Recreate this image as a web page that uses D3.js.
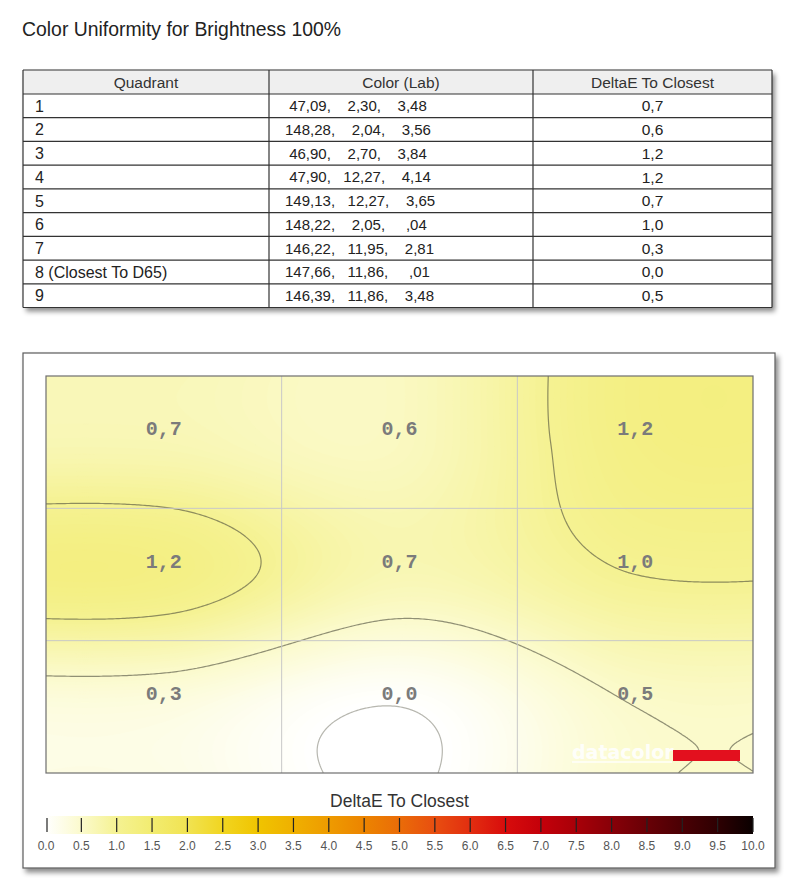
<!DOCTYPE html>
<html>
<head>
<meta charset="utf-8">
<script src="https://cdn.jsdelivr.net/npm/d3@7"></script>
<style>
  body { margin: 0; background: #fff; }
  svg { display: block; font-family: "Liberation Sans", Arial, sans-serif; }
</style>
</head>
<body>
<svg id="chart" width="804" height="891"></svg>
<script>
// table data
const tableHeaders = ["Quadrant", "Color (Lab)", "DeltaE To Closest"];
const quadrants = ["1", "2", "3", "4", "5", "6", "7", "8 (Closest To D65)", "9"];
const labL = ["47,09", "148,28", "46,90", "47,90", "149,13", "148,22", "146,22", "147,66", "146,39"];
const labA = ["2,30", "2,04", "2,70", "12,27", "12,27", "2,05", "11,95", "11,86", "11,86"];
const labB = ["3,48", "3,56", "3,84", "4,14", "3,65", ",04", "2,81", ",01", "3,48"];
const deltaE = [0.7, 0.6, 1.2, 1.2, 0.7, 1.0, 0.3, 0.0, 0.5];

// legend
const legendTicks = [0, 0.5, 1, 1.5, 2, 2.5, 3, 3.5, 4, 4.5, 5, 5.5, 6, 6.5, 7, 7.5, 8, 8.5, 9, 9.5, 10];
const legendColors = ["#ffffff", "#fbfacc", "#f5f292", "#f2ec70", "#f1e352", "#f1d520", "#f0c400",
  "#efb000", "#ee9b00", "#ec8400", "#ea6c08", "#e84e10", "#e22e10", "#d80c0c", "#c4000a",
  "#a80008", "#880008", "#680006", "#4a0004", "#2e0002", "#0a0000"];
const contourLevels = [0, 0.5, 1.0];

const svg = d3.select("#chart");
const defs = svg.append("defs");

const shadow = defs.append("filter").attr("id", "shadow")
  .attr("x", "-5%").attr("y", "-5%").attr("width", "115%").attr("height", "120%");
shadow.append("feDropShadow")
  .attr("dx", 3).attr("dy", 4).attr("stdDeviation", 2.5)
  .attr("flood-color", "#000").attr("flood-opacity", 0.45);

const fmt = v => d3.format(".1f")(v).replace(".", ",");

// title
svg.append("text")
  .attr("x", 22).attr("y", 35.5)
  .style("font-size", "19.4px").attr("fill", "#222")
  .text("Color Uniformity for Brightness 100%");

// ---------- table ----------
const colX = [23, 269, 533, 772];
const headTop = 70, headBot = 94, tableBot = 307.5;
const rowY = d3.scaleLinear().domain([0, quadrants.length]).range([headBot, tableBot]);

svg.append("rect")
  .attr("x", colX[0]).attr("y", headTop)
  .attr("width", colX[3] - colX[0]).attr("height", tableBot - headTop)
  .attr("fill", "#fff").attr("filter", "url(#shadow)");

svg.append("rect")
  .attr("x", colX[0]).attr("y", headTop)
  .attr("width", colX[3] - colX[0]).attr("height", headBot - headTop)
  .attr("fill", "#efefef");

const tbl = svg.append("g").attr("stroke", "#333").attr("stroke-width", 1.2);
d3.range(quadrants.length + 1).forEach(i => {
  tbl.append("line")
    .attr("x1", colX[0]).attr("x2", colX[3])
    .attr("y1", rowY(i)).attr("y2", rowY(i));
});
tbl.append("line").attr("x1", colX[0]).attr("x2", colX[3]).attr("y1", headTop).attr("y2", headTop);
colX.forEach(x => {
  tbl.append("line").attr("x1", x).attr("x2", x).attr("y1", headTop).attr("y2", tableBot);
});

svg.selectAll(".th")
  .data(tableHeaders)
  .join("text")
  .attr("class", "th")
  .attr("x", (d, i) => (colX[i] + colX[i + 1]) / 2)
  .attr("y", (headTop + headBot) / 2)
  .attr("dy", "0.36em")
  .attr("text-anchor", "middle")
  .style("font-size", "15.5px")
  .attr("fill", "#333")
  .text(d => d);

const rows = svg.append("g").attr("fill", "#222");
rows.selectAll(".q")
  .data(quadrants)
  .join("text")
  .attr("x", 35)
  .attr("y", (d, i) => rowY(i + 0.5))
  .attr("dy", "0.36em")
  .style("font-size", "16px")
  .text(d => d);

rows.selectAll(".lab")
  .data(labL)
  .join("text")
  .attr("x", 285)
  .attr("y", (d, i) => rowY(i + 0.5))
  .attr("dy", "0.36em")
  .attr("xml:space", "preserve")
  .style("white-space", "pre")
  .style("font-size", "15px")
  .text((d, i) => d.padStart(6) + ",   " + labA[i].padStart(5) + ",   " + labB[i].padStart(5));

rows.selectAll(".de")
  .data(deltaE)
  .join("text")
  .attr("x", (colX[2] + colX[3]) / 2)
  .attr("y", (d, i) => rowY(i + 0.5))
  .attr("dy", "0.36em")
  .attr("text-anchor", "middle")
  .style("font-size", "15.5px")
  .text(d => fmt(d));

// ---------- chart box ----------
svg.append("rect")
  .attr("x", 23).attr("y", 353).attr("width", 752).attr("height", 515)
  .attr("fill", "#fff").attr("stroke", "#5a5a5a").attr("stroke-width", 1.2)
  .attr("filter", "url(#shadow)");

const plot = { left: 46, right: 753, top: 376, bottom: 773 };
const x = d3.scaleLinear().domain([0, 3]).range([plot.left, plot.right]);
const y = d3.scaleLinear().domain([0, 3]).range([plot.top, plot.bottom]);
const color = d3.scaleLinear().domain(legendTicks).range(legendColors).clamp(true);

// smooth field through the 3x3 cell centres (Catmull-Rom, clamped ends)
const grid = [deltaE.slice(0, 3), deltaE.slice(3, 6), deltaE.slice(6, 9)];
function catmull(p0, p1, p2, p3, t) {
  return 0.5 * (2 * p1 + (-p0 + p2) * t + (2 * p0 - 5 * p1 + 4 * p2 - p3) * t * t
    + (-p0 + 3 * p1 - 3 * p2 + p3) * t * t * t);
}
function interp1(arr, s) {
  const i = Math.floor(s), t = s - i;
  const g = k => arr[Math.max(0, Math.min(arr.length - 1, k))];
  return catmull(g(i - 1), g(i), g(i + 1), g(i + 2), t);
}
function field(u, v) {
  const col = grid.map(row => interp1(row, u - 0.5));
  return interp1(col, v - 0.5);
}

const nx = 354, ny = 199, pad = 2;
const nxE = nx + 2 * pad, nyE = ny + 2 * pad;
const gx = d3.scaleLinear().domain([0, nx]).range([0, 3]);
const gy = d3.scaleLinear().domain([0, ny]).range([0, 3]);
const values = new Array(nxE * nyE);
for (let j = 0; j < nyE; j++) {
  for (let i = 0; i < nxE; i++) {
    const u = Math.max(0, Math.min(3, gx(i - pad + 0.5)));
    const v = Math.max(0, Math.min(3, gy(j - pad + 0.5)));
    values[j * nxE + i] = field(u, v);
  }
}

const proj = d3.geoTransform({
  point(px, py) { this.stream.point(x(gx(px - pad)), y(gy(py - pad))); }
});
const path = d3.geoPath(proj);

defs.append("clipPath").attr("id", "plot-clip")
  .append("rect")
  .attr("x", plot.left).attr("y", plot.top)
  .attr("width", plot.right - plot.left).attr("height", plot.bottom - plot.top);

const heat = svg.append("g").attr("clip-path", "url(#plot-clip)");
const vmin = d3.min(values), vmax = d3.max(values);
const step = 0.02;
const fillThresholds = d3.range(Math.floor(vmin / step) * step, vmax, step);
const bands = d3.contours().size([nxE, nyE]).thresholds(fillThresholds)(values);
heat.selectAll(".band")
  .data(bands)
  .join("path")
  .attr("class", "band")
  .attr("d", path)
  .attr("fill", d => color(d.value + step / 2))
  .attr("stroke", d => color(d.value + step / 2))
  .attr("stroke-width", 0.5);

// grid lines
const gridG = svg.append("g").attr("stroke", "#c8c8c8").attr("stroke-width", 1);
[1, 2].forEach(k => {
  gridG.append("line").attr("x1", x(k)).attr("x2", x(k)).attr("y1", plot.top).attr("y2", plot.bottom);
  gridG.append("line").attr("x1", plot.left).attr("x2", plot.right).attr("y1", y(k)).attr("y2", y(k));
});

// datacolor mark
const logo = svg.append("g");
logo.append("text")
  .attr("x", 572).attr("y", 759)
  .style("font-family", "'DejaVu Sans', sans-serif")
  .style("font-weight", "bold").style("font-size", "19px")
  .attr("fill", "#fff").attr("fill-opacity", 0.9)
  .text("datacolor");
logo.append("line")
  .attr("x1", 572).attr("x2", 672).attr("y1", 762).attr("y2", 762)
  .attr("stroke", "#fff").attr("stroke-width", 1.5).attr("stroke-opacity", 0.9);
logo.append("rect")
  .attr("x", 673).attr("y", 750).attr("width", 67).attr("height", 11)
  .attr("fill", "#e3101e");

// contour lines
const lines = d3.contours().size([nxE, nyE]).thresholds(contourLevels)(values);
heat.selectAll(".iso")
  .data(lines)
  .join("path")
  .attr("class", "iso")
  .attr("d", path)
  .attr("fill", "none")
  .attr("stroke", "#4a4a3a")
  .attr("stroke-opacity", d => d.value === 0 ? 0.4 : 0.6)
  .attr("stroke-width", 1.2)
  .attr("stroke-linejoin", "round");

// plot border
svg.append("rect")
  .attr("x", plot.left).attr("y", plot.top)
  .attr("width", plot.right - plot.left).attr("height", plot.bottom - plot.top)
  .attr("fill", "none").attr("stroke", "#6e6e6e").attr("stroke-width", 1.2);

// cell values
svg.selectAll(".cell-label")
  .data(deltaE)
  .join("text")
  .attr("class", "cell-label")
  .attr("x", (d, i) => x(i % 3 + 0.5))
  .attr("y", (d, i) => y(Math.floor(i / 3) + 0.5) - 14)
  .attr("dy", "0.36em")
  .attr("text-anchor", "middle")
  .style("font-family", "'Liberation Mono', 'Courier New', monospace")
  .style("font-weight", "bold")
  .style("font-size", "20px")
  .attr("fill", "#7b7b7b")
  .text(d => fmt(d));

// ---------- legend ----------
const lx = d3.scaleLinear().domain([0, 10]).range([plot.left, plot.right]);
const grad = defs.append("linearGradient").attr("id", "legend-grad")
  .attr("x1", "0%").attr("x2", "100%").attr("y1", "0%").attr("y2", "0%");
grad.selectAll("stop")
  .data(legendTicks)
  .join("stop")
  .attr("offset", d => (d / 10 * 100) + "%")
  .attr("stop-color", d => color(d));

svg.append("text")
  .attr("x", (plot.left + plot.right) / 2).attr("y", 801)
  .attr("dy", "0.36em")
  .attr("text-anchor", "middle")
  .style("font-size", "17.5px").attr("fill", "#333")
  .text("DeltaE To Closest");

svg.append("rect")
  .attr("x", lx(0)).attr("y", 816)
  .attr("width", lx(10) - lx(0)).attr("height", 18)
  .attr("fill", "url(#legend-grad)");

svg.selectAll(".ltick")
  .data(legendTicks)
  .join("line")
  .attr("class", "ltick")
  .attr("x1", d => lx(d) + (d === 0 ? 1 : 0)).attr("x2", d => lx(d) + (d === 0 ? 1 : 0))
  .attr("y1", 818).attr("y2", 832)
  .attr("stroke", "#222").attr("stroke-width", 1.2);

svg.selectAll(".llabel")
  .data(legendTicks)
  .join("text")
  .attr("class", "llabel")
  .attr("x", d => lx(d))
  .attr("y", 846)
  .attr("dy", "0.36em")
  .attr("text-anchor", "middle")
  .style("font-size", "12px").attr("fill", "#555")
  .text(d => d3.format(".1f")(d));
</script>
</body>
</html>
